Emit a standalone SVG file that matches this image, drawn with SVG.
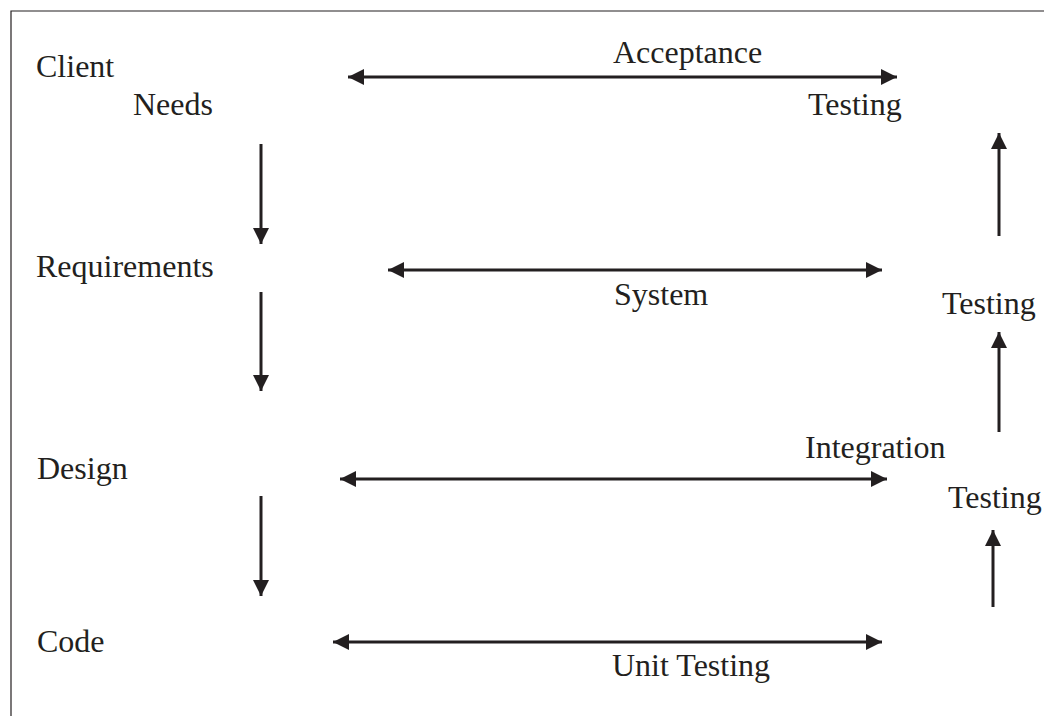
<svg xmlns="http://www.w3.org/2000/svg" width="1044" height="716" viewBox="0 0 1044 716">
  <style>
    .lbl { font-family: "Liberation Serif", "Times New Roman", serif; font-size: 32px; fill: #231f20; }
    .conn { stroke: #231f20; stroke-width: 3; fill: none; }
  </style>
  <defs>
    <marker id="head" viewBox="0 0 16 16" refX="16" refY="8" markerWidth="16" markerHeight="16" markerUnits="userSpaceOnUse" orient="auto-start-reverse">
      <path d="M0,0 L16,8 L0,16 Z" fill="#231f20"/>
    </marker>
  </defs>
  <rect width="1044" height="716" fill="#ffffff"/>
  <!-- frame -->
  <path d="M11,716 L11,11 L1044,11" fill="none" stroke="#231f20" stroke-width="1.2"/>

  <!-- stages on the left -->
  <g id="client-needs">
    <text class="lbl" x="36" y="77">Client</text>
    <text class="lbl" x="133" y="115">Needs</text>
  </g>
  <g id="requirements">
    <text class="lbl" x="36" y="277">Requirements</text>
  </g>
  <g id="design">
    <text class="lbl" x="37" y="479">Design</text>
  </g>
  <g id="code">
    <text class="lbl" x="37" y="652">Code</text>
  </g>

  <!-- testing levels -->
  <g id="acceptance-testing">
    <text class="lbl" x="613" y="63">Acceptance</text>
    <text class="lbl" x="808" y="115">Testing</text>
  </g>
  <g id="system-testing">
    <text class="lbl" x="614" y="305">System</text>
    <text class="lbl" x="942" y="314">Testing</text>
  </g>
  <g id="integration-testing">
    <text class="lbl" x="805" y="458">Integration</text>
    <text class="lbl" x="948" y="508">Testing</text>
  </g>
  <g id="unit-testing">
    <text class="lbl" x="612" y="676">Unit Testing</text>
  </g>

  <g id="connectors">
    <!-- correspondence between stages and tests -->
    <line class="conn" x1="348" y1="77" x2="897" y2="77" marker-start="url(#head)" marker-end="url(#head)"/>
    <line class="conn" x1="388" y1="270" x2="882" y2="270" marker-start="url(#head)" marker-end="url(#head)"/>
    <line class="conn" x1="340" y1="479" x2="887" y2="479" marker-start="url(#head)" marker-end="url(#head)"/>
    <line class="conn" x1="333" y1="642" x2="882" y2="642" marker-start="url(#head)" marker-end="url(#head)"/>
    <!-- descending development stages -->
    <line class="conn" x1="261" y1="144" x2="261" y2="244" marker-end="url(#head)"/>
    <line class="conn" x1="261" y1="292" x2="261" y2="391" marker-end="url(#head)"/>
    <line class="conn" x1="261" y1="496" x2="261" y2="596" marker-end="url(#head)"/>
    <!-- ascending test stages -->
    <line class="conn" x1="999" y1="236" x2="999" y2="133" marker-end="url(#head)"/>
    <line class="conn" x1="999" y1="432" x2="999" y2="332" marker-end="url(#head)"/>
    <line class="conn" x1="993" y1="607" x2="993" y2="530" marker-end="url(#head)"/>
  </g>
</svg>
